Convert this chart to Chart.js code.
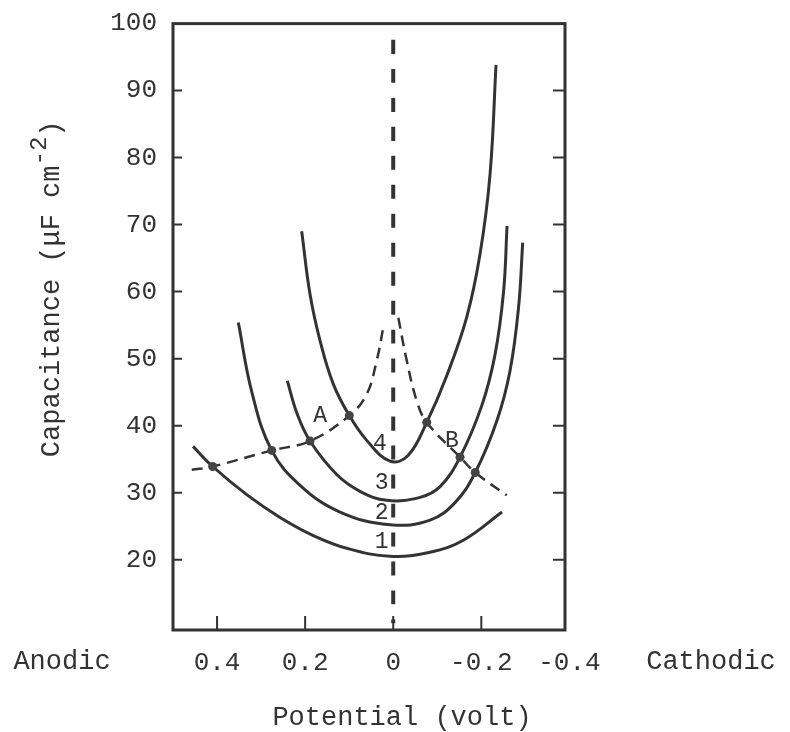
<!DOCTYPE html>
<html lang="en">
<head>
<meta charset="utf-8">
<title>Capacitance vs potential</title>
<script src="https://cdn.jsdelivr.net/npm/chart.js@4.4.1/dist/chart.umd.min.js"></script>
<style>
  html, body { margin: 0; padding: 0; background: #fff; }
  canvas { display: block; }
</style>
</head>
<body>
<canvas id="capChart" width="790" height="732"></canvas>
<script>
// ---------- data (potential in volt, capacitance in uF cm^-2) ----------
const curve1V = [0.4546, 0.4099, 0.3326, 0.2570, 0.1814, 0.1056, 0.0073, -0.0836, -0.1592, -0.2470];
const curve1C = [36.9, 33.9, 29.7, 26.3, 23.6, 21.7, 20.5, 21.1, 22.9, 27.1];

const curve2V = [0.3517, 0.3206, 0.2759, 0.2116, 0.1208, 0.0073, -0.0836, -0.1408, -0.1862, -0.2357, -0.2652, -0.2845, -0.2940];
const curve2C = [55.4, 44.9, 36.3, 31.1, 27.1, 25.2, 25.9, 28.55, 33.0, 40.8, 48.2, 57.6, 67.3];

const curve3V = [0.2405, 0.2184, 0.1889, 0.1283, 0.0754, 0.0148, -0.0609, -0.1063, -0.1517, -0.2016, -0.2311, -0.2505, -0.2584];
const curve3C = [46.7, 41.8, 37.7, 32.7, 30.2, 28.85, 29.3, 30.9, 35.3, 43.1, 50.6, 60.0, 69.8];

const curve4V = [0.2078, 0.1889, 0.1662, 0.1360, 0.0997, 0.0602, 0.0073, -0.0336, -0.0761, -0.1215, -0.1669, -0.1971, -0.2198, -0.2334];
const curve4C = [69.0, 59.6, 52.7, 46.2, 41.5, 37.8, 34.7, 35.55, 40.5, 47.45, 56.2, 65.6, 77.5, 93.85];

// dashed branches A (anodic) and B (cathodic)
const branchAV = [0.4575, 0.4099, 0.2759, 0.1889, 0.0997, 0.0602, 0.0375, 0.0225];
const branchAC = [33.4, 33.9, 36.3, 37.7, 41.5, 44.7, 49.7, 54.65];
const branchBV = [-0.0116, -0.0307, -0.0534, -0.0761, -0.1517, -0.1862, -0.2577];
const branchBC = [56.1, 49.7, 43.7, 40.5, 35.3, 33.0, 29.6];

// crossing points of the branches with the curves
const dotV = [0.4099, 0.2759, 0.1889, 0.0997, -0.0761, -0.1517, -0.1862];
const dotC = [33.9, 36.3, 37.7, 41.5, 40.5, 35.3, 33.0];

// vertical dashed line at zero potential
const zeroV = [0, 0];
const zeroC = [97.6, 10.5];

// curve numbers and branch letters
const markText = ['A', 'B', '4', '3', '2', '1'];
const markV = [0.166, -0.133, 0.030, 0.026, 0.026, 0.026];
const markC = [41.5, 37.7, 37.2, 31.5, 27.0, 22.6];

// axis ticks
const xTickValues = [0.4, 0.2, 0, -0.2, -0.4];
const xTickLabels = ['0.4', '0.2', '0', '-0.2', '-0.4'];
const yTickValues = [20, 30, 40, 50, 60, 70, 80, 90, 100];

// ---------- style ----------
const FONT = "'Liberation Mono', 'DejaVu Sans Mono', monospace";
const INK = '#333';

const toPoints = (v, c) => v.map((p, i) => ({ x: p, y: c[i] }));

function solidCurve(v, c) {
    return {
        data: toPoints(v, c),
        showLine: true,
        borderColor: INK,
        borderWidth: 3,
        pointRadius: 0,
        tension: 0.4
    };
}

function dashedLine(v, c, dash, width) {
    return {
        data: toPoints(v, c),
        showLine: true,
        borderColor: INK,
        borderWidth: width,
        borderDash: dash,
        pointRadius: 0,
        tension: 0.4
    };
}

// frame around the plot and tick marks pointing inwards
const frameTicks = {
    id: 'frameTicks',
    afterDatasetsDraw(chart) {
        const { ctx, chartArea: a, scales: { x, y } } = chart;
        ctx.save();
        ctx.strokeStyle = INK;
        ctx.lineWidth = 2;
        ctx.beginPath();
        yTickValues.forEach(v => {
            const py = y.getPixelForValue(v);
            if (py <= a.top + 1 || py >= a.bottom - 1) return;
            ctx.moveTo(a.left, py); ctx.lineTo(a.left + 9, py);
            ctx.moveTo(a.right - 12, py); ctx.lineTo(a.right, py);
        });
        xTickValues.forEach(v => {
            const px = x.getPixelForValue(v);
            if (px <= a.left + 1 || px >= a.right - 1) return;
            ctx.moveTo(px, a.bottom); ctx.lineTo(px, a.bottom - 14);
        });
        ctx.stroke();
        ctx.lineWidth = 3;
        ctx.strokeRect(a.left, a.top, a.right - a.left, a.bottom - a.top);
        ctx.restore();
    }
};

// curve labels, axis titles and the Anodic / Cathodic captions
const captions = {
    id: 'captions',
    afterDraw(chart) {
        const { ctx, chartArea: a, scales: { x, y } } = chart;
        ctx.save();
        ctx.fillStyle = INK;
        ctx.textBaseline = 'middle';
        ctx.textAlign = 'center';

        ctx.font = `23px ${FONT}`;
        markText.forEach((t, i) => {
            ctx.fillText(t, x.getPixelForValue(markV[i]), y.getPixelForValue(markC[i]));
        });

        ctx.font = `27px ${FONT}`;
        const rowY = a.bottom + 32;
        ctx.fillText('Anodic', a.left - 111, rowY);
        ctx.fillText('Cathodic', a.right + 146, rowY);
        ctx.fillText('Potential (volt)', (a.left + a.right) / 2 + 33, a.bottom + 88);

        // rotated y title with raised exponent
        ctx.translate(a.left - 121, (a.top + a.bottom) / 2 - 38);
        ctx.rotate(-Math.PI / 2);
        const main = 'Capacitance (\u03bcF cm', sup = '-2', close = ')';
        ctx.font = `27px ${FONT}`;
        const wMain = ctx.measureText(main).width;
        const wClose = ctx.measureText(close).width;
        ctx.font = `24px ${FONT}`;
        const wSup = ctx.measureText(sup).width;
        let cx = -(wMain + wSup + wClose) / 2;
        ctx.textAlign = 'left';
        ctx.font = `27px ${FONT}`;
        ctx.fillText(main, cx, 0);
        cx += wMain;
        ctx.font = `24px ${FONT}`;
        ctx.fillText(sup, cx, -12);
        cx += wSup;
        ctx.font = `27px ${FONT}`;
        ctx.fillText(close, cx, 0);
        ctx.restore();
    }
};

new Chart(document.getElementById('capChart'), {
    type: 'scatter',
    data: {
        datasets: [
            {
                data: toPoints(dotV, dotC),
                pointRadius: 4.5,
                pointBackgroundColor: '#444',
                pointBorderWidth: 0
            },
            solidCurve(curve1V, curve1C),
            solidCurve(curve2V, curve2C),
            solidCurve(curve3V, curve3C),
            solidCurve(curve4V, curve4C),
            dashedLine(branchAV, branchAC, [11, 7], 2.5),
            dashedLine(branchBV, branchBC, [11, 7], 2.5),
            dashedLine(zeroV, zeroC, [14, 15], 4)
        ]
    },
    options: {
        responsive: false,
        animation: false,
        devicePixelRatio: 1,
        layout: { padding: { top: 22, right: 225, left: 0, bottom: 0 } },
        plugins: { legend: { display: false }, tooltip: { enabled: false } },
        scales: {
            x: {
                type: 'linear',
                reverse: true,
                min: -0.39,
                max: 0.5,
                grid: { display: false },
                border: { display: false },
                afterBuildTicks: axis => { axis.ticks = xTickValues.map(v => ({ value: v })); },
                afterFit: axis => { axis.height = 102; },
                ticks: {
                    autoSkip: false,
                    maxRotation: 0,
                    padding: 10,
                    color: INK,
                    font: { family: FONT, size: 26 },
                    callback: (val) => xTickLabels[xTickValues.indexOf(val)]
                }
            },
            y: {
                type: 'linear',
                min: 9.5,
                max: 100,
                grid: { display: false },
                border: { display: false },
                afterBuildTicks: axis => { axis.ticks = yTickValues.map(v => ({ value: v })); },
                afterFit: axis => { axis.width = 173; },
                ticks: {
                    padding: 8,
                    color: INK,
                    font: { family: FONT, size: 26 }
                }
            }
        }
    },
    plugins: [frameTicks, captions]
});
</script>
</body>
</html>
